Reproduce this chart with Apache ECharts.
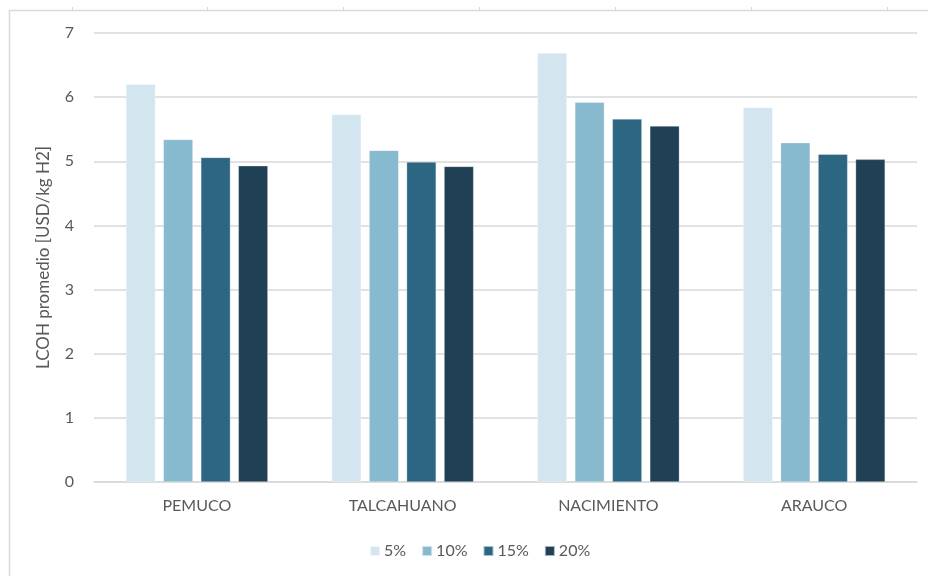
<!DOCTYPE html>
<html>
<head>
<meta charset="utf-8">
<script src="https://cdn.jsdelivr.net/npm/echarts@6/dist/echarts.min.js"></script>
<style>
  html, body { margin: 0; padding: 0; background: #ffffff; }
  #chart { width: 928px; height: 576px; }
</style>
</head>
<body>
<div id="chart"></div>
<script>
// Sites and discount-rate scenarios
const categories = ['PEMUCO', 'TALCAHUANO', 'NACIMIENTO', 'ARAUCO'];
const seriesNames = ['5%', '10%', '15%', '20%'];
const rate5 = [6.20, 5.73, 6.69, 5.84];
const rate10 = [5.34, 5.17, 5.92, 5.29];
const rate15 = [5.06, 4.99, 5.66, 5.11];
const rate20 = [4.93, 4.92, 5.55, 5.03];
const yTicks = [0, 1, 2, 3, 4, 5, 6, 7];

const values = [rate5, rate10, rate15, rate20];
const colors = ['#d3e6f0', '#87b9cf', '#2d6683', '#1f4055'];
const textColor = '#595959';
const gridColor = '#d9d9d9';
const font = 'Lato, "Open Sans", sans-serif';

const chart = echarts.init(document.getElementById('chart'), null, { renderer: 'canvas' });

// Frame lines with small cell ticks along the top edge
const frame = [
  { type: 'line', shape: { x1: 9.5, y1: 10, x2: 9.5, y2: 576 }, style: { stroke: gridColor, lineWidth: 1.5 } },
  { type: 'line', shape: { x1: 9, y1: 10.5, x2: 928, y2: 10.5 }, style: { stroke: gridColor, lineWidth: 1.5 } }
];
[72, 207, 343, 479, 615, 751, 887].forEach(x => {
  frame.push({ type: 'line', shape: { x1: x + 0.5, y1: 7, x2: x + 0.5, y2: 10 }, style: { stroke: gridColor, lineWidth: 1 } });
});

chart.setOption({
  animation: false,
  backgroundColor: '#ffffff',
  graphic: frame,
  grid: { left: 94, right: 11, top: 33, bottom: 94, containLabel: false },
  legend: {
    data: seriesNames,
    left: 364,
    top: 538,
    itemWidth: 10,
    itemHeight: 10,
    itemGap: 15,
    icon: 'rect',
    textStyle: { color: textColor, fontSize: 16, fontFamily: font, padding: [0, 0, 0, -1] }
  },
  xAxis: {
    type: 'category',
    data: categories,
    axisLine: { show: true, lineStyle: { color: gridColor, width: 1.5 } },
    axisTick: { show: false },
    axisLabel: { color: textColor, fontSize: 16, fontFamily: font, margin: 16 }
  },
  yAxis: {
    type: 'value',
    min: yTicks[0],
    max: yTicks[yTicks.length - 1],
    interval: 1,
    name: 'LCOH promedio [USD/kg H2]',
    nameLocation: 'middle',
    nameGap: 42,
    nameRotate: 90,
    nameTextStyle: { color: textColor, fontSize: 17, fontFamily: font },
    axisLine: { show: false },
    axisTick: { show: false },
    axisLabel: { color: textColor, fontSize: 16, fontFamily: font, margin: 20 },
    splitLine: { show: true, lineStyle: { color: gridColor, width: 1.5 } }
  },
  series: seriesNames.map((name, i) => ({
    name: name,
    type: 'bar',
    data: values[i],
    barGap: '27%',
    barCategoryGap: '31%',
    itemStyle: { color: colors[i], borderColor: 'rgba(255,255,255,0.6)', borderWidth: 0.5 }
  }))
});
</script>
</body>
</html>
